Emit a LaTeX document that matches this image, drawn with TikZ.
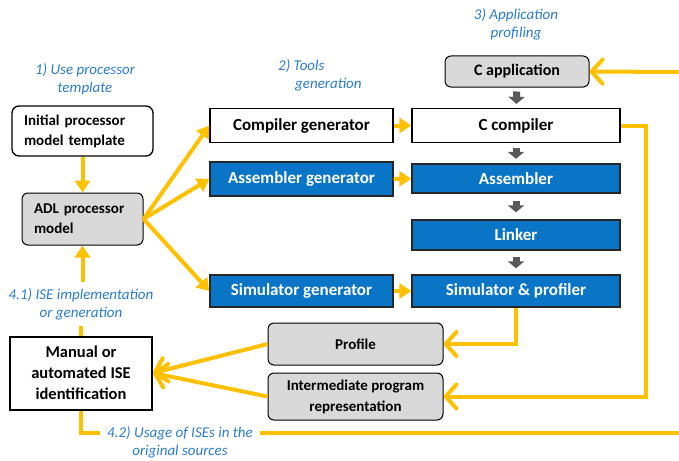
\documentclass[tikz,border=0pt]{standalone}
\usepackage{fontspec}
\setmainfont{Carlito}
\usetikzlibrary{arrows.meta}
\definecolor{amber}{HTML}{FFC000}
\definecolor{toolblue}{HTML}{0A74C6}
\definecolor{stageblue}{HTML}{2A7CCC}
\definecolor{lightgray}{HTML}{D9D9D9}
\definecolor{darkgray}{HTML}{595959}
\newcommand{\fsz}[1]{\fontsize{#1}{#1}\selectfont}

\begin{document}
\begin{tikzpicture}[x=1pt,y=-1pt,>=stealth,
	whitebox/.style={draw=black,line width=1.3pt,fill=white,inner sep=0pt,font=\fsz{17}\bfseries,minimum width=183pt,minimum height=34pt},
	bluebox/.style={whitebox,fill=toolblue,text=white,draw=black!85},
	graybox/.style={whitebox,fill=lightgray,rounded corners=6pt,line width=1pt},
	stage/.style={font=\fontsize{15}{18}\selectfont\itshape,text=stageblue,inner sep=1pt},
	flow/.style={draw=amber,line width=4pt,-{Triangle[length=12pt,width=15pt]}},
	back/.style={draw=amber,line width=4pt,-{Straight Barb[length=11pt,width=24pt,round]}},
	plain/.style={draw=amber,line width=4pt},
	down/.style={draw=darkgray,line width=7pt,-{Triangle[length=7pt,width=16pt]},shorten <=#1,shorten >=#1}]
\useasboundingbox (0,0) rectangle (679,460);

% left column
\node[whitebox,rounded corners=7pt,minimum width=141pt,minimum height=50pt,text width=117pt,align=left,font=\fontsize{15}{20}\selectfont\bfseries] (init) at (82.5,131) {Initial processor\\model template};
\node[graybox,minimum width=121pt,minimum height=52pt,text width=97pt,align=left,font=\fontsize{15}{20}\selectfont\bfseries] (adl) at (82.5,219) {ADL processor\\model};
\node[whitebox,line width=2pt,minimum width=142pt,minimum height=73pt,align=center,font=\fontsize{16.5}{21}\selectfont\bfseries] (manual) at (81,373) {Manual or\\automated ISE\\identification};

% generators
\node[whitebox] (cgen) at (301.5,125.5) {Compiler generator};
\node[bluebox] (agen) at (301.5,179) {Assembler generator};
\node[bluebox,minimum height=32pt] (sgen) at (301.5,291) {Simulator generator};

% tool chain
\node[graybox,minimum width=144pt,minimum height=31pt,font=\fsz{16}\bfseries] (capp) at (517,71.5) {C application};
\node[whitebox,minimum width=208pt] (ccomp) at (516,125.5) {C compiler};
\node[bluebox,minimum width=208pt,minimum height=29pt] (asm) at (516,178.5) {Assembler};
\node[bluebox,minimum width=208pt,minimum height=30pt] (link) at (516,235) {Linker};
\node[bluebox,minimum width=208pt,minimum height=32pt] (simprof) at (516,291) {Simulator \& profiler};

% outputs
\node[graybox,minimum width=175pt,minimum height=42pt,font=\fsz{15}\bfseries] (profile) at (355.5,344) {Profile};
\node[graybox,minimum width=175pt,minimum height=47pt,align=center,font=\fontsize{15}{21}\selectfont\bfseries] (ir) at (355.5,396.5) {Intermediate program\\representation};

% stage labels
\node[stage,align=center] (lbl1) at (85,79) {1) Use processor\\template};
\node[stage,align=left,anchor=west] (lbl2) at (277,75.5) {2) Tools\\\hspace*{17pt}generation};
\node[stage,align=center] (lbl3) at (516,24) {3) Application\\profiling};
\node[stage,align=center,inner sep=6pt] (lbl41) at (81,304) {4.1) ISE implementation\\or generation};
\node[stage,align=center,inner xsep=7pt] (lbl42) at (180,442) {4.2) Usage of ISEs in the\\original sources};
\coordinate (exit) at (679,433);
\coordinate (entry) at (679,72);

% arrows
\draw[flow] (init) -- (adl);
\draw[flow] (adl.east) -- (cgen.west);
\draw[flow] (adl.east) -- (agen.west);
\draw[flow] (adl.east) -- (sgen.west);
\draw[flow] (cgen) -- (ccomp);
\draw[flow] (agen) -- (asm);
\draw[flow] (sgen) -- (simprof);
\draw[down=4pt] (capp) -- (ccomp);
\draw[down=4.5pt] (ccomp) -- (asm);
\draw[down=7pt] (asm) -- (link);
\draw[down=6pt] (link) -- (simprof);
\draw[back] (simprof.south) |- (profile.east);
\draw[back] (ccomp.east) -- ++(25,0) |- (ir.east);
\draw[back] (profile.west) -- (manual.east);
\draw[back] (ir.west) -- (manual.east);
\draw[plain] (manual.north) -- (manual.north |- lbl41.south);
\draw[flow] (adl.south |- lbl41.north) -- (adl.south);
\draw[plain] (manual.south) |- (exit -| lbl42.west);
\draw[plain] (exit -| lbl42.east) -- (exit);
\draw[back] (entry) -- (capp.east);
\end{tikzpicture}
\end{document}
